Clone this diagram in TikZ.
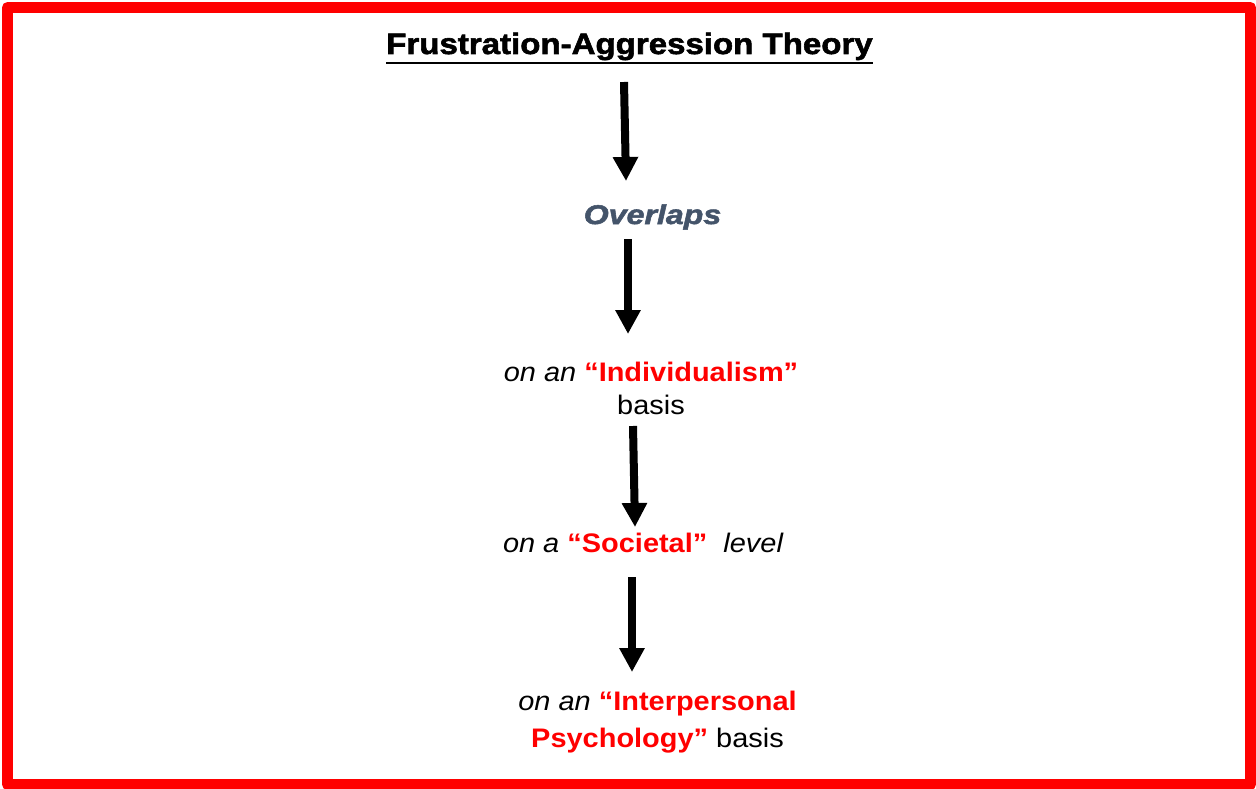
\documentclass[tikz,border=0pt]{standalone}
\usepackage{fontspec}
\setmainfont{Liberation Sans}
\newfontfamily\titlefont[FakeStretch=1.12,FakeBold=2]{Liberation Sans}
\newfontfamily\overfont[FakeStretch=1.19,FakeBold=2]{Liberation Sans}
\newfontfamily\bodyfont[FakeStretch=1.08]{Liberation Sans}
\usetikzlibrary{arrows.meta}
\definecolor{slate}{HTML}{44546A}
\definecolor{pred}{HTML}{FF0000}
\tikzset{
  bigarrow/.style={line width=8pt,-{Triangle[length=24pt,width=24pt]}},
  bodytext/.style={inner sep=0pt,align=center,font=\bodyfont\fontsize{26.8}{33}\selectfont}
}
\newcommand{\hred}[1]{\textcolor{pred}{\bfseries #1}}
\begin{document}
\begin{tikzpicture}[x=1pt,y=-1pt]
\useasboundingbox (0,0) rectangle (1256,789);
\fill[white] (0,0) rectangle (1256,789);
\draw[pred,line width=11pt,line join=round] (7.5,7.5) rectangle (1250.5,784.5);

\node[inner sep=0pt,anchor=base,font=\titlefont\bfseries\fontsize{29.5}{35}\selectfont] (title) at (629.5,54) {Frustration-Aggression Theory};
\draw[line width=2.2pt] ([yshift=-9pt]title.base west) -- ([yshift=-9pt]title.base east);

\node[inner sep=0pt,anchor=base,text=slate,font=\overfont\bfseries\itshape\fontsize{27}{32}\selectfont] (over) at (652.5,224) {Overlaps};

\node[bodytext,anchor=north] (indiv) at (651,361.4) {\itshape on an \upshape\hred{“Individualism”}\\ basis};

\node[bodytext,anchor=base] (soc) at (643,552) {\itshape on a \upshape\hred{“Societal”}\ \ \itshape level};

\node[bodytext,anchor=north,font=\bodyfont\fontsize{26.8}{37}\selectfont] (inter) at (657.5,690.4) {\itshape on an \upshape\hred{“Interpersonal}\\ \hred{Psychology”} basis};

\coordinate (a1s) at (624,82);  \coordinate (a1e) at (626,181);
\coordinate (a2s) at (628,239); \coordinate (a2e) at (628,334);
\coordinate (a3s) at (633,426); \coordinate (a3e) at (635,527);
\coordinate (a4s) at (632,577); \coordinate (a4e) at (632,672);
\draw[bigarrow] (a1s) -- (a1e);
\draw[bigarrow] (a2s) -- (a2e);
\draw[bigarrow] (a3s) -- (a3e);
\draw[bigarrow] (a4s) -- (a4e);
\end{tikzpicture}
\end{document}
